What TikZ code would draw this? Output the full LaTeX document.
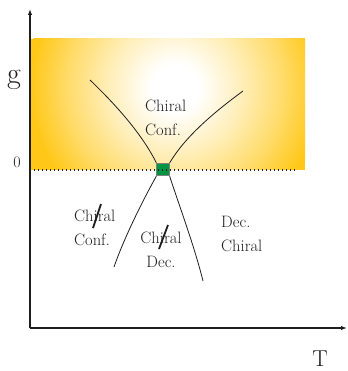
\documentclass[tikz,border=0pt]{standalone}
\usetikzlibrary{arrows.meta}
\definecolor{gold}{RGB}{255,200,25}
\definecolor{ink}{RGB}{30,30,30}
\definecolor{sqgreen}{RGB}{0,150,65}
\pgfdeclareradialshading{glow}{\pgfpoint{0bp}{0bp}}{%
  color(0bp)=(white); color(4bp)=(white);
  color(11bp)=(gold!30!white); color(18bp)=(gold!65!white); color(24bp)=(gold); color(50bp)=(gold)}
\tikzset{
  axis/.style={draw=ink, line width=1.2pt, -{Latex[length=6pt,width=4.5pt]}},
  boundary/.style={draw=ink, line width=0.8pt},
  label/.style={text=ink, font=\fontsize{16.5}{23.5}\selectfont, inner sep=0pt},
  strike/.style={draw=ink, line width=1.8pt},
}
\begin{document}
\begin{tikzpicture}[x=1pt,y=-1pt]
\useasboundingbox (0,0) rectangle (347,371);
% glowing region
\begin{scope}
  \clip (30,39) rectangle (305,170);
  \fill[gold] (30,39) rectangle (305,170);
  \shade[shading=glow] (175,88) circle (150);
\end{scope}
% boundaries
\node[draw=gray, fill=sqgreen, minimum size=12.5pt, inner sep=0pt, line width=0.8pt] (qcp) at (163,169.5) {};
\coordinate (ul) at (90,80);
\coordinate (ur) at (243,91);
\coordinate (ll) at (114,267);
\coordinate (lr) at (203,281);
\draw[boundary] (ul) .. controls (116,105) and (142,134) .. (qcp.north west);
\draw[boundary] (ur) .. controls (213,113) and (185,137) .. (qcp.north east);
\draw[boundary] (qcp.south west) .. controls (143,200) and (124,238) .. (ll);
\draw[boundary] (qcp.south east) .. controls (180,208) and (194,245) .. (lr);
% dotted g=0 line
\coordinate (d0) at (30,170);
\coordinate (d1) at (295,170);
\draw[ink, line width=1.2pt, dash pattern=on 1.2pt off 2.8pt] (d0) -- (d1);
% axes
\coordinate (O) at (30,328);
\coordinate (ytip) at (30,9);
\coordinate (xtip) at (347,328);
\draw[axis] (O) -- (ytip);
\draw[axis] (O) -- (xtip);
% axis labels
\node[text=ink, font=\fontsize{30}{30}\selectfont, inner sep=0pt] (g) at (14,80) {g};
\node[text=ink, font=\fontsize{16}{16}\selectfont, inner sep=0pt] (zero) at (17,162.5) {0};
\node[text=ink, font=\fontsize{23}{23}\selectfont, inner sep=0pt] (T) at (320,359) {T};
% region labels
\node[label, align=left, anchor=west] (cc) at (145,118) {Chiral\\Conf.};
\node[label, align=left, anchor=west] (ncc) at (74,228) {Chiral\\Conf.};
\node[label, align=center] (ncd) at (161,250) {Chiral\\Dec.};
\node[label, align=left, anchor=west] (dc) at (221,234) {Dec.\\Chiral};
% strike-throughs
\coordinate (s1a) at (101,204); \coordinate (s1b) at (93,228);
\coordinate (s2a) at (168,225); \coordinate (s2b) at (159,249);
\draw[strike] (s1a) -- (s1b);
\draw[strike] (s2a) -- (s2b);
\end{tikzpicture}
\end{document}
